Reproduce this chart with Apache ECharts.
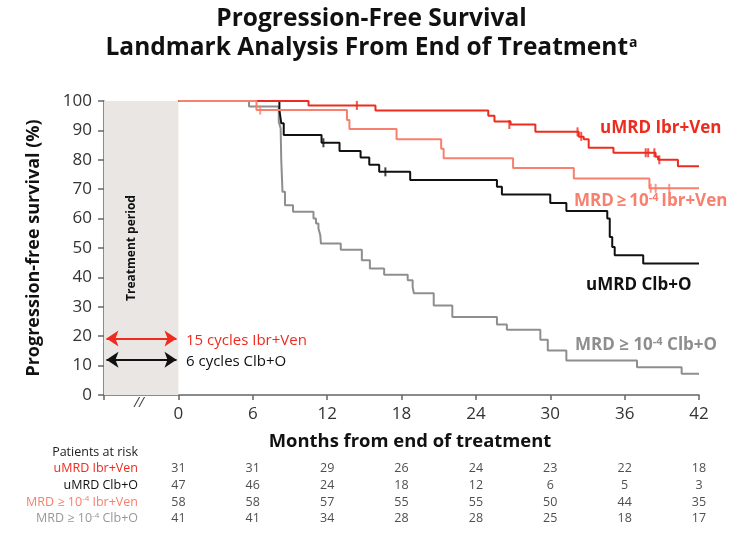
<!DOCTYPE html>
<html><head><meta charset="utf-8">
<script src="https://cdn.jsdelivr.net/npm/echarts@6/dist/echarts.min.js"></script>
<style>html,body{margin:0;padding:0;background:#fff}#c{width:743px;height:534px}</style>
</head><body><div id="c"></div>
<script>
// ---- data (months, PFS %) ----
const uMrdIbrVen = [[0,100],[10.5,98.5],[15.9,96.8],[25.0,95.0],[25.5,93.0],[26.8,92.0],[28.8,89.5],[32.3,87.8],[32.7,87.0],[33.1,84.1],[35.1,82.4],[38.5,81.0],[38.7,80.0],[40.3,77.8],[42,77.8]];
const uMrdIbrVenCens = [[14.4,98.5],[26.7,92.0],[32.2,89.5],[32.5,88.0],[37.7,82.4],[37.9,82.4],[38.4,82.4],[38.8,80.0]];
const mrdIbrVen = [[0,100],[6.3,96.9],[13.6,93.5],[13.8,90.5],[17.6,87.0],[21.2,83.8],[21.4,80.5],[27.0,77.2],[31.9,73.6],[38.0,70.3],[42,70.3]];
const mrdIbrVenCens = [[6.6,96.9],[38.1,70.3],[38.5,70.3],[39.6,70.3]];
const uMrdClbO = [[0,100],[8.15,97.0],[8.3,92.4],[8.5,88.4],[11.55,85.8],[13.0,83.0],[14.7,80.8],[15.4,78.3],[16.2,75.9],[18.7,73.1],[25.7,70.8],[26.1,68.2],[30.0,65.3],[31.3,62.6],[34.6,60.0],[34.8,53.7],[35.0,50.3],[35.2,47.5],[37.5,44.7],[42,44.7]];
const uMrdClbOCens = [[11.7,85.8],[16.7,75.9]];
const mrdClbO = [[0,100],[5.7,98.1],[8.1,92.9],[8.25,90.7],[8.3,79.9],[8.4,69.1],[8.6,64.5],[9.25,62.3],[10.9,60.0],[11.1,58.3],[11.3,56.6],[11.45,54.3],[11.5,51.5],[13.1,49.4],[14.8,45.8],[15.45,43.0],[16.6,40.9],[18.5,39.0],[18.9,36.7],[19.0,34.6],[20.6,30.4],[22.1,26.5],[25.7,24.0],[26.5,22.2],[29.2,18.8],[29.8,15.1],[31.3,11.7],[37.0,9.4],[40.6,7.2],[42,7.2]];

const riskMonths = [0,6,12,18,24,30,36,42];
const riskRows = ['Patients at risk','uMRD Ibr+Ven','uMRD Clb+O','MRD ≥ 10-4 Ibr+Ven','MRD ≥ 10-4 Clb+O'];
const riskUMrdIbrVen = [31,31,29,26,24,23,22,18];
const riskUMrdClbO = [47,46,24,18,12,6,5,3];
const riskMrdIbrVen = [58,58,57,55,55,50,44,35];
const riskMrdClbO = [41,41,34,28,28,25,18,17];

const treatmentPeriod = [-6, 0];
const arrowIbrVen = [[-5.8,19.2],[-0.15,19.2]];
const arrowClbO = [[-5.8,12],[-0.15,12]];

// ---- styles ----
const RED = '#ee2b1f', SALMON = '#f7806f', BLACK = '#111111', GRAY = '#8e8e8e';
const FONT = '"Open Sans", "Noto Sans", sans-serif';
const TS = '\u2009';

const riskScatter = [];
[riskUMrdIbrVen, riskUMrdClbO, riskMrdIbrVen, riskMrdClbO].forEach((arr, r) => {
  arr.forEach((v, i) => riskScatter.push([riskMonths[i], riskRows[r+1], v]));
});
const rowLabelRich = [
  '{h|Patients at risk}',
  '{a|uMRD Ibr+Ven}',
  '{b|uMRD Clb+O}',
  '{c|MRD ≥ 10}{cs|-4}{c| Ibr+Ven}',
  '{d|MRD ≥ 10}{ds|-4}{d| Clb+O}'
];

function step(name, data, color, z) {
  return {name, type:'line', step:'end', data, symbol:'none', z,
    lineStyle:{color, width:2}, itemStyle:{color}, silent:true, animation:false};
}
function cens(data, color, z) {
  return {type:'scatter', data, symbol:'rect', symbolSize:[2,9], z,
    itemStyle:{color}, silent:true, animation:false};
}

const chart = echarts.init(document.getElementById('c'), null, {renderer:'canvas'});
chart.setOption({
  backgroundColor:'#fff',
  animation:false,
  textStyle:{fontFamily:FONT},
  title:[
    {text:'Progression-Free Survival', left:'center', top:2,
     textStyle:{fontFamily:FONT, fontSize:24.5, fontWeight:'bold', color:'#111'}},
    {text:'Landmark Analysis From End of Treatment{s|a}', left:'center', top:31,
     textStyle:{fontFamily:FONT, fontSize:24.5, fontWeight:'bold', color:'#111',
       rich:{s:{fontFamily:FONT, fontSize:14, fontWeight:'bold', color:'#111', verticalAlign:'top', padding:[0,0,11,1]}}}}
  ],
  grid:[
    {left:104, right:44, top:101, bottom:139},
    {left:104, right:44, top:444, height:83}
  ],
  xAxis:[
    {type:'value', gridIndex:0, min:-6, max:42, interval:6,
     name:'Months from end of treatment', nameLocation:'middle', nameGap:38,
     nameTextStyle:{fontFamily:FONT, fontSize:18.4, fontWeight:'bold', color:'#111', padding:[0,0,0,17]},
     axisLine:{show:true, onZero:false, lineStyle:{color:'#666', width:1.5}},
     axisTick:{show:true, length:5, lineStyle:{color:'#666', width:1.5}},
     axisLabel:{fontFamily:FONT, fontSize:17, color:'#333', margin:11,
       formatter:v => v < 0 ? '' : String(v)},
     splitLine:{show:false}},
    {type:'value', gridIndex:1, min:-6, max:42, show:false}
  ],
  yAxis:[
    {type:'value', gridIndex:0, min:0, max:100, interval:10,
     name:'Progression-free survival (%)', nameLocation:'middle', nameGap:61,
     nameTextStyle:{fontFamily:FONT, fontSize:18, fontWeight:'bold', color:'#111'},
     axisLine:{show:true, onZero:false, lineStyle:{color:'#666', width:1.5}},
     axisTick:{show:true, length:6, lineStyle:{color:'#666', width:1.5}},
     axisLabel:{fontFamily:FONT, fontSize:17, color:'#333', margin:12},
     splitLine:{show:false}},
    {type:'category', gridIndex:1, data:riskRows, inverse:true,
     axisLine:{show:false}, axisTick:{show:false},
     axisLabel:{interval:0, margin:-34, align:'right', fontFamily:FONT, fontSize:12.5,
       formatter:(v, i) => rowLabelRich[i],
       rich:{
         h:{color:'#222', fontSize:12.5, fontFamily:FONT},
         a:{color:RED, fontSize:12.5, fontFamily:FONT},
         b:{color:'#111', fontSize:12.5, fontFamily:FONT},
         c:{color:SALMON, fontSize:12.5, fontFamily:FONT},
         d:{color:'#999', fontSize:12.5, fontFamily:FONT},
         cs:{color:SALMON, fontSize:8, fontFamily:FONT, verticalAlign:'top', padding:[0,0,6,0]},
         ds:{color:'#999', fontSize:8, fontFamily:FONT, verticalAlign:'top', padding:[0,0,6,0]}
       }},
     splitLine:{show:false}}
  ],
  series:[
    {type:'line', data:[], xAxisIndex:0, yAxisIndex:0, silent:true, z:1,
     markArea:{silent:true, itemStyle:{color:'#e9e6e3'},
       data:[[{xAxis:treatmentPeriod[0]},{xAxis:treatmentPeriod[1]}]]},
     markLine:{silent:true, symbol:['arrow','arrow'], symbolSize:[12,12], label:{show:false},
       data:[
         [{coord:arrowIbrVen[0], lineStyle:{color:RED, width:2.2, type:'solid'}, itemStyle:{color:RED}},{coord:arrowIbrVen[1]}],
         [{coord:arrowClbO[0], lineStyle:{color:BLACK, width:2.2, type:'solid'}, itemStyle:{color:BLACK}},{coord:arrowClbO[1]}]
       ]}},
    step('MRD ≥ 10-4 Clb+O', mrdClbO, GRAY, 2),
    step('uMRD Clb+O', uMrdClbO, BLACK, 3),
    cens(uMrdClbOCens, BLACK, 3),
    step('uMRD Ibr+Ven', uMrdIbrVen, RED, 4),
    cens(uMrdIbrVenCens, RED, 4),
    step('MRD ≥ 10-4 Ibr+Ven', mrdIbrVen, SALMON, 5),
    cens(mrdIbrVenCens, SALMON, 5),
    {type:'scatter', xAxisIndex:1, yAxisIndex:1, data:riskScatter, symbolSize:0.1,
     silent:true, label:{show:true, position:'inside', fontFamily:FONT, fontSize:12.5, color:'#222',
       formatter:p => String(p.value[2])}}
  ],
  graphic:[
    {type:'text', x:132, y:248, rotation:Math.PI/2, z:100,
     style:{text:'Treatment period', fontFamily:FONT, fontSize:12, fontWeight:'bold', fill:'#111',
       align:'center', verticalAlign:'middle'}},
    {type:'text', x:134, y:396, z:100, style:{text:'//', fontFamily:FONT, fontSize:14, fill:'#444', fontStyle:'italic'}},
    {type:'text', x:186, y:333, z:100, style:{text:'15 cycles Ibr+Ven', fontFamily:FONT, fontSize:15, fill:RED}},
    {type:'text', x:186, y:354, z:100, style:{text:'6 cycles Clb+O', fontFamily:FONT, fontSize:15, fill:BLACK}},
    {type:'text', x:600, y:120, z:100, style:{text:'uMRD Ibr+Ven', fontFamily:FONT, fontSize:17, fontWeight:'bold', fill:RED}},
    {type:'text', x:574, y:192, z:100, style:{text:'MRD' + TS + '≥' + TS + '10{s|-4}' + TS + 'Ibr+Ven', fontFamily:FONT, fontSize:17, fontWeight:'bold', fill:SALMON,
      rich:{s:{fontFamily:FONT, fontSize:11, fontWeight:'bold', fill:SALMON, verticalAlign:'top', padding:[0,0,8,0]}}}},
    {type:'text', x:586, y:277, z:100, style:{text:'uMRD Clb+O', fontFamily:FONT, fontSize:17, fontWeight:'bold', fill:BLACK}},
    {type:'text', x:575, y:336, z:100, style:{text:'MRD ≥ 10{s|-4} Clb+O', fontFamily:FONT, fontSize:17, fontWeight:'bold', fill:GRAY,
      rich:{s:{fontFamily:FONT, fontSize:11, fontWeight:'bold', fill:GRAY, verticalAlign:'top', padding:[0,0,8,0]}}}}
  ]
});
</script></body></html>
